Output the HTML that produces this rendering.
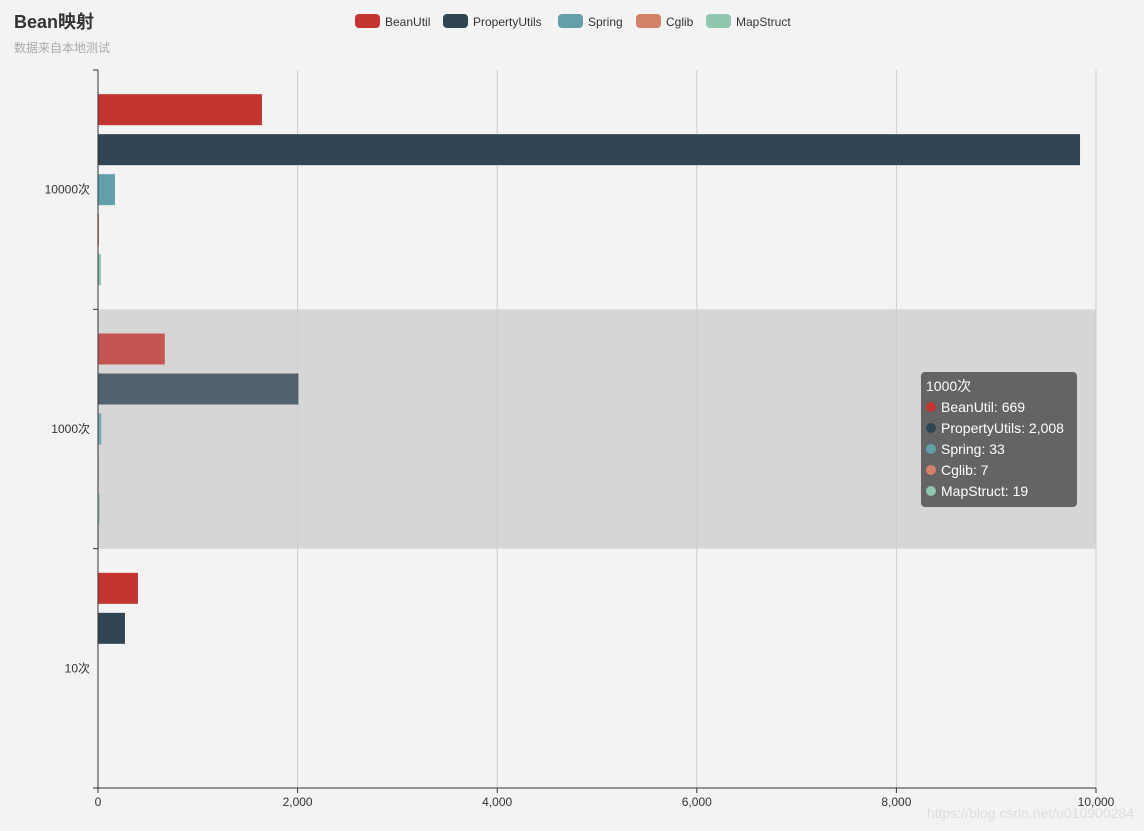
<!DOCTYPE html>
<html><head><meta charset="utf-8">
<style>
body{margin:0;background:#f3f3f3;font-family:"Liberation Sans","Noto Sans CJK SC",sans-serif;}
</style></head>
<body>
<svg id="chart" width="1144" height="831" xmlns="http://www.w3.org/2000/svg" style="display:block;background:#f3f3f3">
<text x="14" y="28" font-size="18" font-weight="bold" fill="#333" font-family="Liberation Sans,Noto Sans CJK SC,sans-serif">Bean映射</text>
<text x="14" y="52" font-size="12" fill="#aaa" font-family="Liberation Sans,Noto Sans CJK SC,sans-serif">数据来自本地测试</text>
<g id="legend"></g>
<g id="plot"></g>
<text x="1134" y="818" font-size="14" fill="#ddd" text-anchor="end">https://blog.csdn.net/u010900284</text>
</svg>
<script>
const categories = ["10000次","1000次","10次"];
const seriesNames = ["BeanUtil","PropertyUtils","Spring","Cglib","MapStruct"];
const seriesColors = ["#c23531","#2f4554","#61a0a8","#d48265","#91c7ae"];
const beanUtil = [1643, 669, 400];
const propertyUtils = [9840, 2008, 270];
const spring = [170, 33, 3];
const cglib = [10, 7, 2];
const mapStruct = [30, 19, 2];
const xTicks = [0,2000,4000,6000,8000,10000];
const highlighted = 1;

const values = [beanUtil, propertyUtils, spring, cglib, mapStruct];
const NS="http://www.w3.org/2000/svg";
const L=98,R=1096,T=70,B=788,XMAX=10000;
const xs=v=>L+(v/XMAX)*(R-L);
const band=(B-T)/categories.length;
function mk(tag,attrs,parent){const e=document.createElementNS(NS,tag);for(const k in attrs)e.setAttribute(k,attrs[k]);parent.appendChild(e);return e;}
const plot=document.getElementById('plot');
const fmt=v=>v.toLocaleString('en-US');

// highlight band
const hb=mk('rect',{x:L,y:T+highlighted*band,width:R-L,height:band,fill:'#d6d6d6'},plot);



// grid
xTicks.forEach((t,i)=>{
  if(i>0){const g=mk('line',{x1:xs(t),x2:xs(t),y1:T,y2:B,stroke:'#ccc','stroke-width':1},plot);
  
  }
  const tk=mk('line',{x1:xs(t),x2:xs(t),y1:B,y2:B+5,stroke:'#333'},plot);
  
  
  const tl=mk('text',{x:xs(t),y:B+18,'font-size':12,fill:'#333','text-anchor':'middle'},plot);
  tl.textContent=fmt(t);
  
  
});

// bars
const barH=31,gap=9,groupH=5*barH+4*gap,off=(band-groupH)/2;
categories.forEach((c,ci)=>{
  const y0=T+ci*band;
  values.forEach((arr,si)=>{
    const r=mk('rect',{x:L,y:y0+off+si*(barH+gap),width:Math.max(0,xs(arr[ci])-L),height:barH,fill:seriesColors[si],opacity:ci===highlighted?0.8:1},plot);
    
    
  });
  const lb=mk('text',{x:L-8,y:y0+band/2+4,'font-size':12,fill:'#333','text-anchor':'end'},plot);
  lb.textContent=c;
  
  
});
for(let i=0;i<=categories.length;i++){
  const tk=mk('line',{x1:L-5,x2:L,y1:T+i*band,y2:T+i*band,stroke:'#333'},plot);
  
  
}
const ya=mk('line',{x1:L,x2:L,y1:T,y2:B,stroke:'#333'},plot);


const xa=mk('line',{x1:L,x2:R,y1:B,y2:B,stroke:'#333'},plot);



// legend
const legend=document.getElementById('legend');
const lx=[355,443,558,636,706];
seriesNames.forEach((n,i)=>{
  const g=mk('g',{},legend);
  
  
  mk('rect',{x:lx[i],y:14,width:25,height:14,rx:4,fill:seriesColors[i]},g);
  const t=mk('text',{x:lx[i]+30,y:26,'font-size':12,fill:'#333'},g);
  t.textContent=n;
});

// tooltip
const tg=mk('g',{},plot);


mk('rect',{x:921,y:372,width:156,height:135,rx:4,fill:'rgba(80,80,80,0.85)'},tg);
const tt=mk('text',{x:926,y:391,'font-size':14,fill:'#fff'},tg);
tt.textContent=categories[highlighted];
seriesNames.forEach((n,i)=>{
  const y=412+i*21;
  mk('circle',{cx:931,cy:y-5,r:5,fill:seriesColors[i]},tg);
  const t=mk('text',{x:941,y:y,'font-size':14,fill:'#fff'},tg);
  t.textContent=n+': '+fmt(values[i][highlighted]);
});
</script>
</body></html>
